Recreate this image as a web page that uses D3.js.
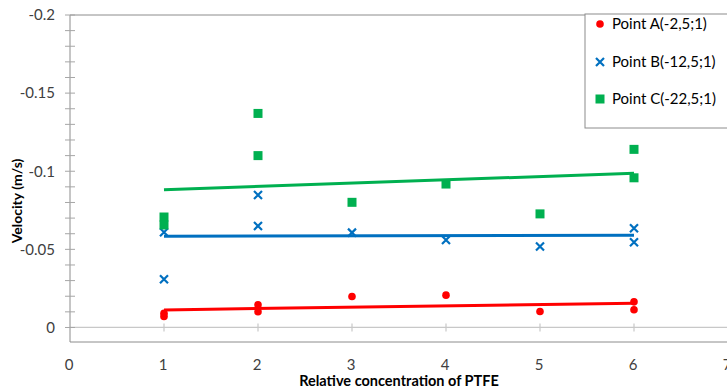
<!DOCTYPE html>
<html>
<head>
<meta charset="utf-8">
<script src="https://cdn.jsdelivr.net/npm/d3@7/dist/d3.min.js"></script>
<style>
  html, body { margin: 0; padding: 0; background: #fff; }
  svg { display: block; font-family: Lato, "Open Sans", sans-serif; }
</style>
</head>
<body>
<svg id="chart" width="727" height="388"></svg>
<script>
// ---- data ----
const xTicks = [0, 1, 2, 3, 4, 5, 6, 7];
const yTicks = [-0.2, -0.15, -0.1, -0.05, 0];
const yTickLabels = ["-0.2", "-0.15", "-0.1", "-0.05", "0"];

const seriesNames = ["Point A(-2,5;1)", "Point B(-12,5;1)", "Point C(-22,5;1)"];
const seriesColors = ["#FF0000", "#0070C0", "#00B050"];

const xA = [1, 1, 2, 2, 3, 4, 5, 6, 6];
const yA = [-0.0091, -0.0071, -0.0145, -0.0101, -0.0198, -0.0207, -0.0102, -0.0164, -0.0113];

const xB = [1, 1, 2, 2, 3, 4, 5, 6, 6];
const yB = [-0.0610, -0.0309, -0.0650, -0.0848, -0.0607, -0.0560, -0.0518, -0.0635, -0.0546];

const xC = [1, 1, 2, 2, 3, 4, 5, 6, 6];
const yC = [-0.0707, -0.0656, -0.1370, -0.1100, -0.0801, -0.0918, -0.0727, -0.1140, -0.0958];

// ---- layout ----
const svg = d3.select("#chart");
const x = d3.scaleLinear().domain([0, 7]).range([70, 728]);
const y = d3.scaleLinear().domain([0.0093, -0.2]).range([342, 15]);

const series = [
  { name: seriesNames[0], color: seriesColors[0], xs: xA, ys: yA, shape: "circle" },
  { name: seriesNames[1], color: seriesColors[1], xs: xB, ys: yB, shape: "cross" },
  { name: seriesNames[2], color: seriesColors[2], xs: xC, ys: yC, shape: "square" }
];

// plot area border (top and bottom)
svg.append("line").attr("x1", 70).attr("x2", 727).attr("y1", y(-0.2)).attr("y2", y(-0.2))
  .attr("stroke", "#8c8c8c").attr("stroke-width", 1);
svg.append("line").attr("x1", 70).attr("x2", 727).attr("y1", 342).attr("y2", 342)
  .attr("stroke", "#8c8c8c").attr("stroke-width", 1);

// x axis at y = 0
const xAxisG = svg.append("g").attr("transform", `translate(0,${y(0)})`);
xAxisG.append("line").attr("x1", 70).attr("x2", 727).attr("y1", 0).attr("y2", 0)
  .attr("stroke", "#c8c8c8").attr("stroke-width", 1.2);
xAxisG.selectAll("line.tk").data(xTicks.filter(d => d > 0)).enter().append("line")
  .attr("class", "tk")
  .attr("x1", d => x(d)).attr("x2", d => x(d))
  .attr("y1", -4).attr("y2", 4)
  .attr("stroke", "#c8c8c8").attr("stroke-width", 1.2);

// x tick labels at bottom
svg.selectAll("text.xl").data(xTicks).enter().append("text")
  .attr("class", "xl")
  .attr("x", d => x(d) - 1).attr("y", 370)
  .attr("text-anchor", "middle")
  .attr("font-size", 15).attr("fill", "#404040")
  .text(d => d);

// y axis
const yAxis = d3.axisLeft(y).tickValues(yTicks).tickFormat((d, i) => yTickLabels[i]).tickSize(0);
const yG = svg.append("g").attr("transform", "translate(70,0)").call(yAxis);
yG.select(".domain").remove();
yG.selectAll("text").attr("font-size", 15).attr("fill", "#404040").attr("x", -15)
  .attr("font-family", "Lato, 'Open Sans', sans-serif");
svg.append("line").attr("x1", 70).attr("x2", 70).attr("y1", y(-0.2)).attr("y2", 342)
  .attr("stroke", "#8c8c8c").attr("stroke-width", 1);
// major + minor ticks every 0.01
const minorTicks = d3.range(0, 21).map(i => -i * 0.01);
svg.selectAll("line.ytk").data(minorTicks).enter().append("line")
  .attr("class", "ytk")
  .attr("x1", 65).attr("x2", 75)
  .attr("y1", d => y(d)).attr("y2", d => y(d))
  .attr("stroke", "#a6a6a6").attr("stroke-width", 1);

// axis titles
svg.append("text").attr("x", x(3.5)).attr("y", 386)
  .attr("text-anchor", "middle").attr("font-size", 14.5).attr("font-weight", "bold")
  .attr("fill", "#000").text("Relative concentration of PTFE");
svg.append("text").attr("transform", `translate(22,201) rotate(-90)`)
  .attr("text-anchor", "middle").attr("font-size", 14).attr("font-weight", "bold")
  .attr("fill", "#000").text("Velocity (m/s)");

// markers
function drawMarker(g, shape, color, cx, cy) {
  if (shape === "circle") {
    g.append("circle").attr("cx", cx).attr("cy", cy).attr("r", 3.8).attr("fill", color);
  } else if (shape === "square") {
    g.append("rect").attr("x", cx - 4.5).attr("y", cy - 4.5).attr("width", 9).attr("height", 9).attr("fill", color);
  } else {
    const s = 4;
    g.append("path").attr("d", `M${cx - s},${cy - s}L${cx + s},${cy + s}M${cx - s},${cy + s}L${cx + s},${cy - s}`)
      .attr("stroke", color).attr("stroke-width", 2.2).attr("fill", "none");
  }
}

const plotG = svg.append("g");
series.forEach(s => {
  const g = plotG.append("g");
  s.xs.forEach((xv, i) => drawMarker(g, s.shape, s.color, x(xv), y(s.ys[i])));
});

// linear trendlines (least squares)
series.forEach(s => {
  const n = s.xs.length;
  const mx = d3.mean(s.xs), my = d3.mean(s.ys);
  let sxy = 0, sxx = 0;
  for (let i = 0; i < n; i++) { sxy += (s.xs[i] - mx) * (s.ys[i] - my); sxx += (s.xs[i] - mx) ** 2; }
  const b = sxy / sxx, a = my - b * mx;
  const x0 = d3.min(s.xs), x1 = d3.max(s.xs);
  plotG.append("line")
    .attr("x1", x(x0)).attr("y1", y(a + b * x0))
    .attr("x2", x(x1)).attr("y2", y(a + b * x1))
    .attr("stroke", s.color).attr("stroke-width", 3);
});

// legend
const lg = svg.append("g");
lg.append("rect").attr("x", 585).attr("y", 14).attr("width", 150).attr("height", 114)
  .attr("fill", "#fff").attr("stroke", "#8c8c8c").attr("stroke-width", 1);
const legendY = [24, 62, 99];
series.forEach((s, i) => {
  drawMarker(lg, s.shape, s.color, 600, legendY[i]);
  lg.append("text").attr("x", 612).attr("y", legendY[i] + 5)
    .attr("font-size", 15).attr("fill", "#000").text(s.name);
});
</script>
</body>
</html>
